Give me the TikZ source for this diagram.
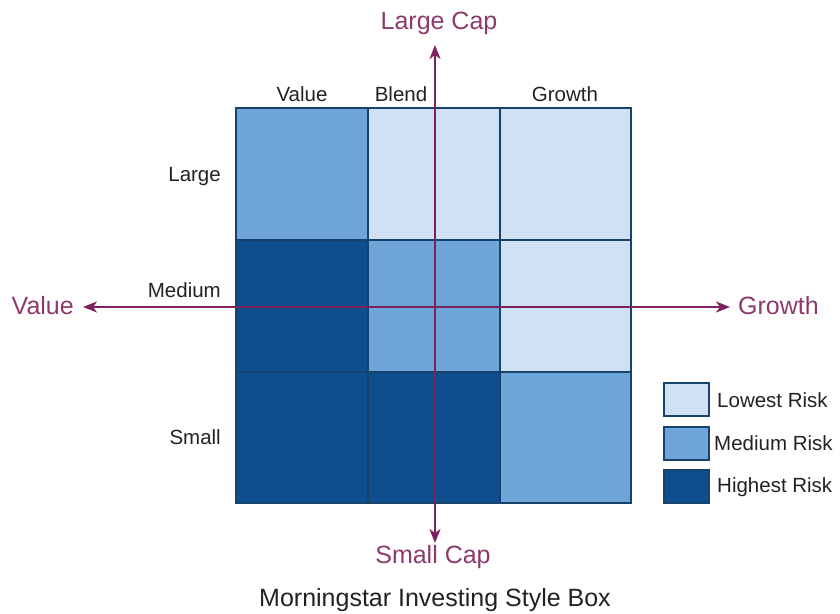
\documentclass[tikz,border=0pt]{standalone}
\usepackage{fontspec}
\setmainfont{Liberation Sans}
\usetikzlibrary{positioning,arrows.meta}

\definecolor{lowrisk}{RGB}{207,225,242}
\definecolor{medrisk}{RGB}{110,166,218}
\definecolor{highrisk}{RGB}{14,77,142}
\definecolor{cellline}{RGB}{22,66,108}
\definecolor{axiscol}{RGB}{125,34,92}
\definecolor{axistext}{RGB}{140,58,108}
\definecolor{labeltext}{RGB}{34,34,34}

\tikzset{
  cell/.style={draw=cellline, line width=2pt, minimum size=131.7pt,
    inner sep=0pt, outer sep=0pt},
  keybox/.style={draw=cellline, line width=2pt, minimum width=45pt,
    minimum height=33pt, inner sep=0pt},
  gridlabel/.style={font=\fontsize{20.5}{23}\selectfont, text=labeltext, inner sep=0pt},
  axislabel/.style={font=\fontsize{25}{28}\selectfont, text=axistext, inner sep=0pt},
  axis/.style={draw=axiscol, line width=1.8pt,
    {Stealth[length=14pt,width=11pt,inset=4pt]}-{Stealth[length=14pt,width=11pt,inset=4pt]}},
}

\begin{document}
\begin{tikzpicture}[x=1pt, y=-1pt]
  \useasboundingbox (0,0) rectangle (840,613);

  % style box, one row at a time
  \node[cell, fill=medrisk] (lv) at (302,174) {};
  \node[cell, fill=lowrisk, right=0pt of lv] (lb) {};
  \node[cell, fill=lowrisk, right=0pt of lb] (lg) {};
  \node[cell, fill=highrisk, below=0pt of lv] (mv) {};
  \node[cell, fill=medrisk, right=0pt of mv] (mb) {};
  \node[cell, fill=lowrisk, right=0pt of mb] (mg) {};
  \node[cell, fill=highrisk, below=0pt of mv] (sv) {};
  \node[cell, fill=highrisk, right=0pt of sv] (sb) {};
  \node[cell, fill=medrisk, right=0pt of sb] (sg) {};

  % column and row headings
  \node[gridlabel] (cvalue) at (302,94) {Value};
  \node[gridlabel] (cblend) at (401,94) {Blend};
  \node[gridlabel] (cgrowth) at (565,94) {Growth};
  \node[gridlabel, anchor=east] (rlarge) at (221,177) {Large};
  \node[gridlabel, anchor=east] (rmedium) at (221,290) {Medium};
  \node[gridlabel, anchor=east] (rsmall) at (221,437) {Small};

  % axes
  \coordinate (captop) at (435,45);
  \coordinate (capbot) at (435,543);
  \coordinate (valend) at (83,307);
  \coordinate (growend) at (730,307);
  \draw[axis] (captop) -- (capbot);
  \draw[axis] (valend) -- (growend);

  \node[axislabel] (largecap) at (439,23) {Large Cap};
  \node[axislabel] (smallcap) at (433,557) {Small Cap};
  \node[axislabel, anchor=east] (valuelbl) at (74,306) {Value};
  \node[axislabel, anchor=west] (growthlbl) at (738,306) {Growth};

  % legend
  \node[keybox, fill=lowrisk] (klow) at (686,399) {};
  \node[keybox, fill=medrisk] (kmed) at (686,443) {};
  \node[keybox, fill=highrisk] (khigh) at (686,486) {};
  \node[gridlabel, anchor=west] at (717,400) {Lowest Risk};
  \node[gridlabel, anchor=west] at (714,443) {Medium Risk};
  \node[gridlabel, anchor=west] at (717,487) {Highest Risk};

  \node[font=\fontsize{25}{28}\selectfont, text=labeltext, inner sep=0pt] (title)
    at (435,600) {Morningstar Investing Style Box};
\end{tikzpicture}
\end{document}
